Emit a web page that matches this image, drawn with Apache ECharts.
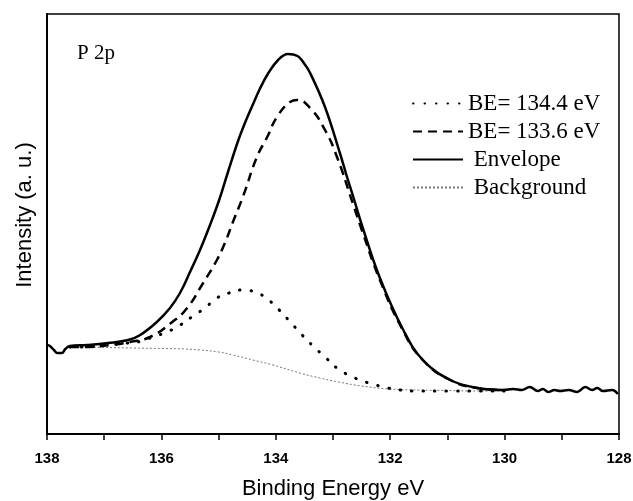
<!DOCTYPE html>
<html>
<head>
<meta charset="utf-8">
<script src="https://cdn.jsdelivr.net/npm/echarts@6/dist/echarts.min.js"></script>
<style>
  html, body { margin: 0; padding: 0; background: #fff; }
  #chart { width: 633px; height: 501px; }
</style>
</head>
<body>
<div id="chart"></div>
<script>
// binding energy (eV) and intensity (a.u.)
const envX = [138.0, 137.95, 137.88, 137.82, 137.74, 137.68, 137.6, 137.3, 136.93, 136.58, 136.37, 136.08, 135.85, 135.675, 135.5, 135.325, 135.15, 134.99, 134.836, 134.66, 134.54, 134.42, 134.28, 134.14, 133.96, 133.79, 133.62, 133.51, 133.4, 133.14, 132.88, 132.76, 132.65, 132.49, 132.18, 131.78, 131.43, 130.95, 130.48, 130.03, 129.85, 129.7, 129.56, 129.42, 129.33, 129.24, 129.13, 129.03, 128.88, 128.73, 128.59, 128.47, 128.38, 128.28, 128.12, 128.02];
const envY = [89, 88, 84, 81, 81, 85, 88, 89, 91, 94, 99, 112, 126, 141, 162, 184, 209, 234, 262, 293, 311, 327, 345, 360, 374, 380, 378, 371, 361, 327, 281, 258, 238, 208, 156, 105, 74, 54, 46, 44, 45, 44, 47, 43, 45, 42, 44, 43, 44, 42, 47, 44, 46, 43, 44, 40];

const peak2X = [137.6, 137.37, 136.9, 136.55, 136.2, 135.81, 135.55, 135.27, 135.03, 134.89, 134.75, 134.57, 134.33, 134.15, 133.98, 133.75, 133.63, 133.4, 133.14, 132.93, 132.65, 132.49, 132.18, 131.78, 131.43, 130.95, 130.48, 130.03];
const peak2Y = [87, 87, 89, 92, 97, 112, 126, 151, 174, 191, 212, 238, 277, 297, 317, 332, 334, 326, 304, 277, 230, 203, 154, 104, 74, 54, 46, 44];

const peak1X = [137.6, 137.37, 136.95, 136.6, 136.34, 136.15, 135.9, 135.67, 135.47, 135.24, 135.03, 134.82, 134.59, 134.36, 134.15, 133.94, 133.73, 133.54, 133.33, 133.12, 132.91, 132.69, 132.48, 132.25, 132.04, 131.83, 131.5, 131.0, 130.5, 130.0];
const peak1Y = [87, 87, 89, 91, 93, 97, 102, 109, 117, 126, 136, 141, 144, 142, 135, 124, 111, 99, 87, 76, 65, 58, 53, 49, 46, 44, 43, 43, 43, 43];

const bgX = [137.6, 137.0, 136.5, 136.0, 135.6, 135.33, 135.0, 134.75, 134.4, 134.05, 133.58, 133.23, 132.9, 132.5, 132.0, 131.5, 131.0, 130.5, 130.0];
const bgY = [87, 86.5, 86, 85.5, 85, 84, 82, 79, 74, 69, 61, 56, 52, 48, 45, 44, 43.5, 43, 43];

const seriesNames = ['BE= 134.4 eV', 'BE= 133.6 eV', 'Envelope', 'Background'];
const xTicks = [138, 136, 134, 132, 130, 128];

const pairs = (xs, ys) => xs.map((x, i) => [x, ys[i]]);

const chart = echarts.init(document.getElementById('chart'));

const axisFont = 'Liberation Sans, Arial, sans-serif';
const serifFont = 'Liberation Serif, Times New Roman, serif';

chart.setOption({
    animation: false,
    backgroundColor: '#fff',
    grid: {
        left: 47, right: 14, top: 14, bottom: 67,
        outerBoundsMode: 'none',
        show: true, borderColor: '#000', borderWidth: 1.5,
    },
    legend: {
        orient: 'vertical',
        left: 412,
        top: 92,
        padding: 0,
        itemWidth: 50,
        itemHeight: 14,
        itemGap: 5,
        data: seriesNames,
        itemStyle: { opacity: 0 },
        formatter: (n) => (n.startsWith('BE') ? n : ' ' + n),
        textStyle: { color: '#000', fontSize: 23, fontFamily: serifFont },
    },
    graphic: [{
        type: 'text',
        left: 77,
        top: 43,
        style: { text: 'P 2p', fill: '#000', font: '21px ' + serifFont },
    }],
    xAxis: {
        type: 'value',
        inverse: true,
        min: 128,
        max: 138,
        interval: 1,
        name: 'Binding Energy eV',
        nameLocation: 'middle',
        nameGap: 44,
        nameTextStyle: { color: '#000', fontSize: 22, fontFamily: axisFont },
        axisLine: { lineStyle: { color: '#000', width: 2 } },
        axisTick: { show: true, inside: false, length: 6, lineStyle: { color: '#000', width: 1.5 } },
        axisLabel: {
            margin: 17,
            color: '#000',
            fontSize: 15,
            fontWeight: 'bold',
            fontFamily: axisFont,
            formatter: (v) => (xTicks.includes(v) ? String(v) : ''),
        },
        splitLine: { show: false },
    },
    yAxis: {
        type: 'value',
        min: 0,
        max: 420,
        name: 'Intensity (a. u.)',
        nameLocation: 'middle',
        nameGap: 11,
        nameTextStyle: { color: '#000', fontSize: 22, fontFamily: axisFont, padding: [0, 0, 0, 18] },
        axisLine: { show: true, lineStyle: { color: '#000', width: 2 } },
        axisTick: { show: false },
        axisLabel: { show: false },
        splitLine: { show: false },
    },
    series: [
        {
            name: seriesNames[0],
            type: 'line',
            symbol: 'none',
            smooth: 0.5,
            data: pairs(peak1X, peak1Y),
            lineStyle: { color: '#000', width: 3, type: [0.5, 11], cap: 'round' },
            itemStyle: { color: '#000' },
            z: 3,
        },
        {
            name: seriesNames[1],
            type: 'line',
            symbol: 'none',
            smooth: 0.5,
            data: pairs(peak2X, peak2Y),
            lineStyle: { color: '#000', width: 2.5, type: [9, 6] },
            itemStyle: { color: '#000' },
            z: 3,
        },
        {
            name: seriesNames[2],
            type: 'line',
            symbol: 'none',
            smooth: 0.4,
            data: pairs(envX, envY),
            lineStyle: { color: '#000', width: 2.5 },
            itemStyle: { color: '#000' },
            z: 4,
        },
        {
            name: seriesNames[3],
            type: 'line',
            symbol: 'none',
            smooth: 0.5,
            data: pairs(bgX, bgY),
            lineStyle: { color: '#777', width: 1, type: [2, 2] },
            itemStyle: { color: '#777' },
            z: 2,
        },
    ],
});
</script>
</body>
</html>
